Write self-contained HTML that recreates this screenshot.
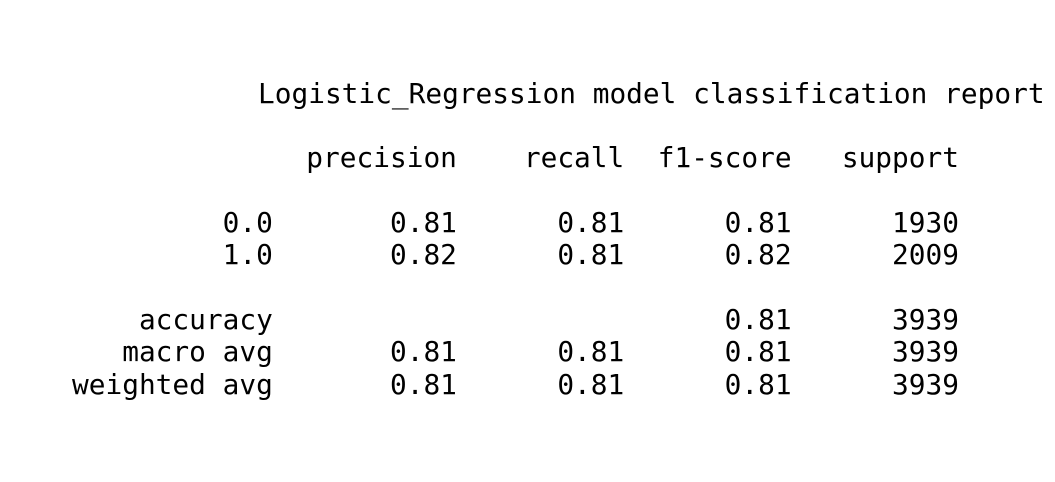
<!DOCTYPE html>
<html>
<head>
<meta charset="utf-8">
<style>
  html, body { margin:0; padding:0; background:#ffffff; }
  body { width:1055px; height:482px; position:relative; overflow:hidden; }
  pre {
    position:absolute; margin:0;
    font-family: "DejaVu Sans Mono", "Liberation Mono", monospace;
    font-size:27.8px; line-height:32.4px; color:#000;
    white-space:pre;
  }
</style>
</head>
<body>
<pre style="left:258px; top:77.6px;">Logistic_Regression model classification report</pre>
<pre style="left:72px; top:141.8px;">              precision    recall  f1-score   support

         0.0       0.81      0.81      0.81      1930
         1.0       0.82      0.81      0.82      2009

    accuracy                           0.81      3939
   macro avg       0.81      0.81      0.81      3939
weighted avg       0.81      0.81      0.81      3939</pre>
</body>
</html>
